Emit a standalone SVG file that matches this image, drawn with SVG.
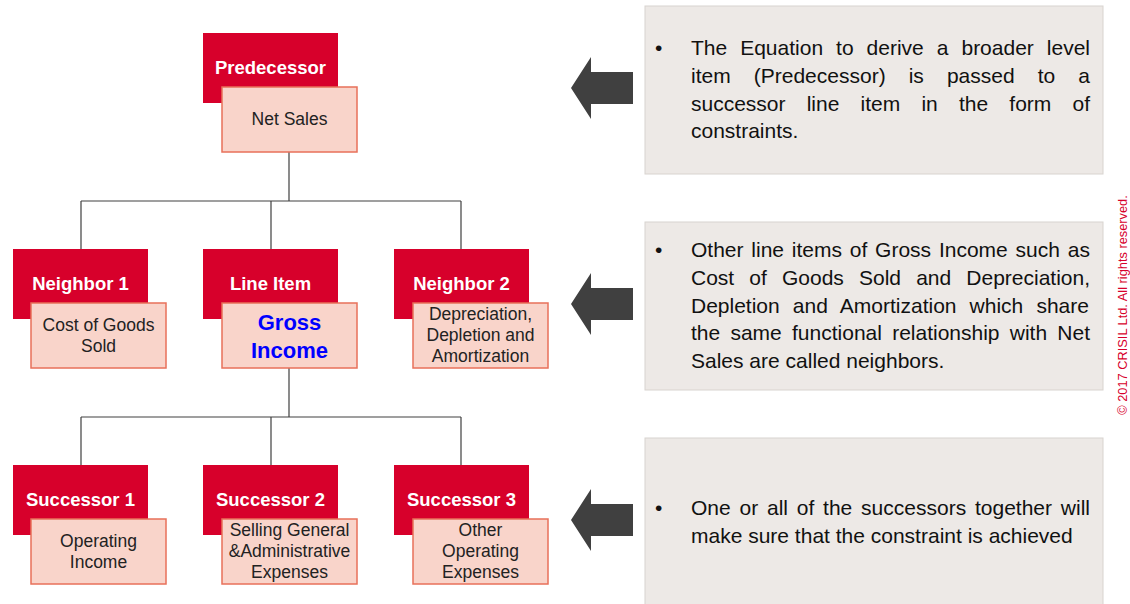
<svg xmlns="http://www.w3.org/2000/svg" width="1130" height="604" viewBox="0 0 1130 604">
<defs>
<style>
.red{fill:#D7002B;}
.pink{fill:#F9D4CA;stroke:#E8705A;stroke-width:1.5;}
.lbl{font-family:"Liberation Sans",Arial,sans-serif;font-weight:bold;font-size:18.5px;fill:#fff;text-anchor:middle;}
.txt{font-family:"Liberation Sans",Arial,sans-serif;font-size:17.5px;fill:#222;text-anchor:middle;}
.big{font-family:"Liberation Sans",Arial,sans-serif;font-weight:bold;font-size:22px;fill:#0000FF;text-anchor:middle;}
.box{fill:#EDE9E6;stroke:#D8D3CF;stroke-width:1;}
.arr{fill:#404040;}
.b{font-family:"Liberation Sans",Arial,sans-serif;font-size:21px;fill:#111;}
.conn{fill:none;stroke:#404040;stroke-width:1.2;}
</style>
</defs>
<rect width="1130" height="604" fill="#fff"/>
<g id="connectors" class="conn">
<path d="M289 152V201M81 201H461M81 201V249M271 201V249M461 201V249"/>
<path d="M289 368V417M81 417H461M81 417V465M271 417V465M461 417V465"/>
</g>
<g id="predecessor">
<rect class="red" x="203" y="33" width="135" height="70"/>
<text class="lbl" x="270.5" y="73.5">Predecessor</text>
<rect class="pink" x="222" y="87" width="135" height="65"/>
<text class="txt" x="289.5" y="124.5">Net Sales</text>
</g>
<g id="neighbor1">
<rect class="red" x="13" y="249" width="135" height="70"/>
<text class="lbl" x="80.5" y="290">Neighbor 1</text>
<rect class="pink" x="31" y="303" width="135" height="65"/>
<text class="txt" x="98.5" y="330.5">Cost of Goods</text>
<text class="txt" x="98.5" y="351.5">Sold</text>
</g>
<g id="lineitem">
<rect class="red" x="203" y="249" width="135" height="70"/>
<text class="lbl" x="270.5" y="290">Line Item</text>
<rect class="pink" x="222" y="303" width="135" height="65"/>
<text class="big" x="289.5" y="329.5">Gross</text>
<text class="big" x="289.5" y="357.5">Income</text>
</g>
<g id="neighbor2">
<rect class="red" x="394" y="249" width="135" height="70"/>
<text class="lbl" x="461.5" y="290">Neighbor 2</text>
<rect class="pink" x="413" y="303" width="135" height="65"/>
<text class="txt" x="480.5" y="319.5">Depreciation,</text>
<text class="txt" x="480.5" y="340.5">Depletion and</text>
<text class="txt" x="480.5" y="361.5">Amortization</text>
</g>
<g id="successor1">
<rect class="red" x="13" y="465" width="135" height="70"/>
<text class="lbl" x="80.5" y="506">Successor 1</text>
<rect class="pink" x="31" y="519" width="135" height="65"/>
<text class="txt" x="98.5" y="546.5">Operating</text>
<text class="txt" x="98.5" y="567.5">Income</text>
</g>
<g id="successor2">
<rect class="red" x="203" y="465" width="135" height="70"/>
<text class="lbl" x="270.5" y="506">Successor 2</text>
<rect class="pink" x="222" y="519" width="135" height="65"/>
<text class="txt" x="289.5" y="535.5">Selling General</text>
<text class="txt" x="289.5" y="556.5">&amp;Administrative</text>
<text class="txt" x="289.5" y="577.5">Expenses</text>
</g>
<g id="successor3">
<rect class="red" x="394" y="465" width="135" height="70"/>
<text class="lbl" x="461.5" y="506">Successor 3</text>
<rect class="pink" x="413" y="519" width="135" height="65"/>
<text class="txt" x="480.5" y="535.5">Other</text>
<text class="txt" x="480.5" y="556.5">Operating</text>
<text class="txt" x="480.5" y="577.5">Expenses</text>
</g>
<g id="note1">
<rect class="box" x="645" y="6" width="458" height="168"/>
<polygon class="arr" points="571,88 591,57 591,72 633,72 633,104 591,104 591,119"/>
<text class="b" x="655" y="55">•</text>
<text class="b" x="691" y="55" word-spacing="7.16">The Equation to derive a broader level</text>
<text class="b" x="691" y="83" word-spacing="17.24">item (Predecessor) is passed to a</text>
<text class="b" x="691" y="111" word-spacing="15.34">successor line item in the form of</text>
<text class="b" x="691" y="138">constraints.</text>
</g>
<g id="note2">
<rect class="box" x="645" y="222" width="458" height="168"/>
<polygon class="arr" points="571,304 591,273 591,288 633,288 633,320 591,320 591,335"/>
<text class="b" x="655" y="257">•</text>
<text class="b" x="691" y="257" word-spacing="1.97">Other line items of Gross Income such as</text>
<text class="b" x="691" y="285" word-spacing="9.3">Cost of Goods Sold and Depreciation,</text>
<text class="b" x="691" y="313" word-spacing="7.26">Depletion and Amortization which share</text>
<text class="b" x="691" y="340" word-spacing="4.4">the same functional relationship with Net</text>
<text class="b" x="691" y="368">Sales are called neighbors.</text>
</g>
<g id="note3">
<rect class="box" x="645" y="438" width="458" height="168"/>
<polygon class="arr" points="571,520 591,489 591,504 633,504 633,536 591,536 591,551"/>
<text class="b" x="655" y="515">•</text>
<text class="b" x="691" y="515" word-spacing="2.97">One or all of the successors together will</text>
<text class="b" x="691" y="543">make sure that the constraint is achieved</text>
</g>
<text x="0" y="0" transform="translate(1127,305) rotate(-90)" text-anchor="middle" font-family="Liberation Sans,Arial,sans-serif" font-size="12.8" fill="#D7002B">© 2017 CRISIL Ltd. All rights reserved.</text>
</svg>
